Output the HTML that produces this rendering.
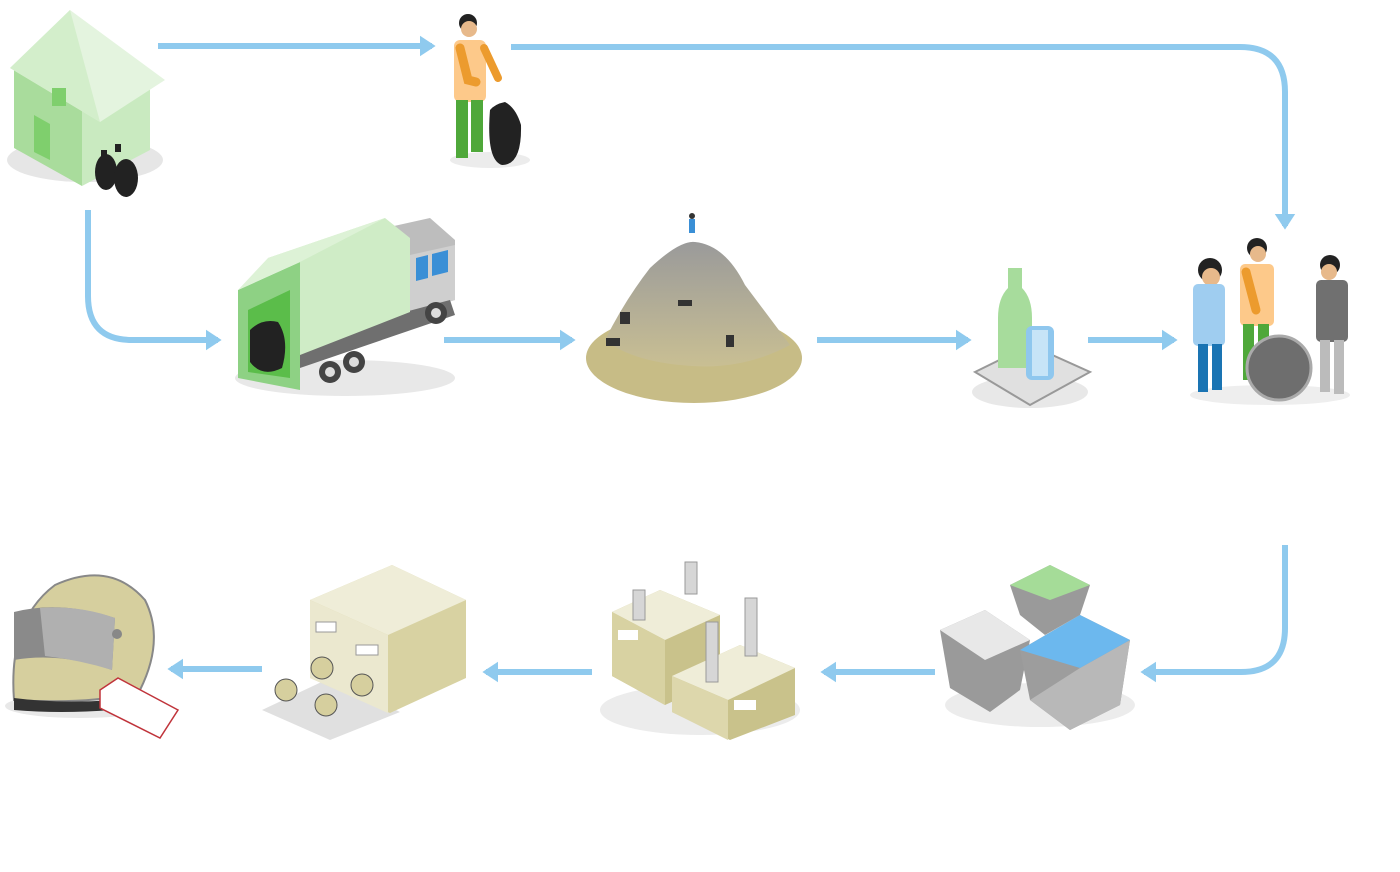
<!DOCTYPE html>
<html><head><meta charset="utf-8"><style>html,body{margin:0;padding:0;background:#fff}svg{display:block}</style></head>
<body>
<svg width="1400" height="872" viewBox="0 0 1400 872" xmlns="http://www.w3.org/2000/svg">
<defs>
<marker id="a" markerWidth="4" markerHeight="4" refX="2" refY="2" orient="auto" markerUnits="strokeWidth"><path d="M0,0.3 L2.6,2 L0,3.7 Z" fill="#8fcaee"/></marker>
<linearGradient id="m" x1="0" y1="0" x2="0" y2="1"><stop offset="0" stop-color="#9a9a9a"/><stop offset="1" stop-color="#c9bf93"/></linearGradient>
</defs>
<g fill="none" stroke="#8fcaee" stroke-width="6" marker-end="url(#a)">
<path d="M158,46 H432"/>
<path d="M511,47 H1240 Q1285,47 1285,92 V226"/>
<path d="M88,210 V296 Q88,340 132,340 H218"/>
<path d="M444,340 H572"/>
<path d="M817,340 H968"/>
<path d="M1088,340 H1174"/>
<path d="M1285,545 V628 Q1285,672 1241,672 H1144"/>
<path d="M935,672 H824"/>
<path d="M592,672 H486"/>
<path d="M262,669 H171"/>
</g>
<!-- house -->
<ellipse cx="85" cy="160" rx="78" ry="22" fill="#e6e6e6"/>
<polygon points="14,70 82,110 82,186 14,148" fill="#a9dc9c"/>
<polygon points="82,110 150,80 150,150 82,186" fill="#c9eac0"/>
<polygon points="10,68 70,10 165,80 100,122" fill="#e4f4df"/>
<polygon points="10,68 70,10 100,122" fill="#d3eecb"/>
<rect x="52" y="88" width="14" height="18" fill="#7fcf6d"/>
<polygon points="34,115 50,124 50,160 34,152" fill="#7fcf6d"/>
<g fill="#222"><ellipse cx="106" cy="172" rx="11" ry="18"/><ellipse cx="126" cy="178" rx="12" ry="19"/><rect x="115" y="144" width="6" height="8"/><rect x="101" y="150" width="6" height="8"/></g>
<!-- person 1 -->
<ellipse cx="490" cy="160" rx="40" ry="8" fill="#ececec"/>
<circle cx="468" cy="23" r="9" fill="#222"/><circle cx="469" cy="29" r="8" fill="#e7b98b"/>
<rect x="454" y="40" width="32" height="62" rx="6" fill="#fdc98a"/>
<path d="M460,48 L468,80 L476,82" stroke="#ec9b2e" stroke-width="9" fill="none" stroke-linecap="round"/>
<path d="M484,48 L498,78" stroke="#ec9b2e" stroke-width="8" fill="none" stroke-linecap="round"/>
<rect x="456" y="100" width="12" height="58" fill="#4fa83a"/><rect x="471" y="100" width="12" height="52" fill="#4fa83a"/>
<path d="M490,110 Q486,160 502,165 Q522,165 521,125 Q516,108 505,102 Q495,104 490,110Z" fill="#222"/>
<!-- truck -->
<ellipse cx="345" cy="378" rx="110" ry="18" fill="#e8e8e8"/>
<polygon points="385,228 430,218 455,240 455,300 385,320" fill="#bdbdbd"/>
<polygon points="410,255 455,245 455,300 410,312" fill="#cfcfcf"/>
<polygon points="416,258 428,255 428,278 416,281" fill="#3a8fd6"/><polygon points="432,254 448,250 448,272 432,276" fill="#3a8fd6"/>
<polygon points="300,340 450,300 455,315 300,368" fill="#6f6f6f"/>
<polygon points="238,290 300,262 300,390 238,378" fill="#8ed184"/>
<polygon points="248,310 290,290 290,378 248,372" fill="#5bbd4a"/>
<polygon points="268,258 385,218 410,238 410,312 300,355 300,262" fill="#cfecc6"/>
<polygon points="238,290 268,258 385,218 300,262" fill="#ddf2d6"/>
<path d="M250,330 Q262,318 278,322 Q290,340 282,368 Q262,378 250,362Z" fill="#222"/>
<g fill="#444"><circle cx="330" cy="372" r="11"/><circle cx="354" cy="362" r="11"/><circle cx="436" cy="313" r="11"/></g>
<g fill="#ddd"><circle cx="330" cy="372" r="5"/><circle cx="354" cy="362" r="5"/><circle cx="436" cy="313" r="5"/></g>
<!-- landfill -->
<ellipse cx="694" cy="358" rx="108" ry="45" fill="#c7bc86"/>
<path d="M605,340 Q625,300 650,268 Q680,240 695,242 Q725,245 745,285 Q775,325 790,345 Q740,372 680,365 Q630,360 605,340Z" fill="url(#m)"/>
<rect x="689" y="219" width="6" height="14" fill="#3a8fd6"/><circle cx="692" cy="216" r="3" fill="#333"/>
<g fill="#333"><rect x="620" y="312" width="10" height="12"/><rect x="606" y="338" width="14" height="8"/><rect x="726" y="335" width="8" height="12"/><rect x="678" y="300" width="14" height="6"/></g>
<!-- bottle and can -->
<ellipse cx="1030" cy="392" rx="58" ry="16" fill="#e8e8e8"/>
<polygon points="975,372 1030,345 1090,372 1030,405" fill="#e0e0e0" stroke="#999" stroke-width="2"/>
<path d="M1008,268 h14 v20 q10,10 10,30 v50 h-34 v-50 q0,-20 10,-30z" fill="#a7dc9c"/>
<rect x="1026" y="326" width="28" height="54" rx="6" fill="#8fc7ee"/><rect x="1032" y="330" width="16" height="46" fill="#c7e4f7"/>
<!-- people group -->
<ellipse cx="1270" cy="395" rx="80" ry="10" fill="#eee"/>
<circle cx="1210" cy="270" r="12" fill="#222"/><circle cx="1211" cy="277" r="9" fill="#e7b98b"/>
<rect x="1193" y="284" width="32" height="62" rx="5" fill="#9fcdf0"/>
<rect x="1198" y="344" width="10" height="48" fill="#1a74b3"/><rect x="1212" y="344" width="10" height="46" fill="#1a74b3"/>
<circle cx="1257" cy="248" r="10" fill="#222"/><circle cx="1258" cy="254" r="8" fill="#e7b98b"/>
<rect x="1240" y="264" width="34" height="62" rx="5" fill="#fdc98a"/>
<path d="M1246,272 L1256,310" stroke="#ec9b2e" stroke-width="9" stroke-linecap="round"/>
<rect x="1243" y="324" width="11" height="56" fill="#4fa83a"/><rect x="1258" y="324" width="11" height="50" fill="#4fa83a"/>
<circle cx="1330" cy="265" r="10" fill="#222"/><circle cx="1329" cy="272" r="8" fill="#e7b98b"/>
<rect x="1316" y="280" width="32" height="62" rx="5" fill="#707070"/>
<rect x="1320" y="340" width="10" height="52" fill="#bbb"/><rect x="1334" y="340" width="10" height="54" fill="#bbb"/>
<circle cx="1279" cy="368" r="32" fill="#6e6e6e" stroke="#aaa" stroke-width="3"/>
<!-- bins -->
<ellipse cx="1040" cy="705" rx="95" ry="22" fill="#ececec"/>
<polygon points="940,630 985,610 1030,640 1020,690 990,712 950,688" fill="#9a9a9a"/>
<polygon points="940,630 985,610 1030,640 985,660" fill="#e8e8e8"/>
<polygon points="1010,585 1050,565 1090,585 1080,615 1045,635 1020,615" fill="#9a9a9a"/>
<polygon points="1010,585 1050,565 1090,585 1050,600" fill="#a5dc98"/>
<polygon points="1020,650 1080,615 1130,640 1120,705 1070,730 1030,700" fill="#9d9d9d"/>
<polygon points="1030,700 1070,730 1120,705 1130,640 1080,668" fill="#b8b8b8"/>
<polygon points="1020,650 1080,615 1130,640 1080,668" fill="#6cb8ee"/>
<!-- factory -->
<ellipse cx="700" cy="710" rx="100" ry="25" fill="#ececec"/>
<polygon points="612,612 660,590 720,615 720,680 665,705 612,676" fill="#c9c28b"/>
<polygon points="612,612 660,590 720,615 665,640" fill="#efedd8"/>
<polygon points="612,612 665,640 665,705 612,676" fill="#d8d2a2"/>
<polygon points="672,676 740,645 795,668 795,715 730,740 672,712" fill="#c9c28b"/>
<polygon points="672,676 740,645 795,668 728,700" fill="#efedd8"/>
<polygon points="672,676 728,700 728,740 672,712" fill="#ddd7ac"/>
<g fill="#d6d6d6" stroke="#999"><rect x="633" y="590" width="12" height="30"/><rect x="685" y="562" width="12" height="32"/><rect x="706" y="622" width="12" height="60"/><rect x="745" y="598" width="12" height="58"/></g>
<g fill="#fff"><rect x="618" y="630" width="20" height="10"/><rect x="734" y="700" width="22" height="10"/></g>
<!-- warehouse -->
<polygon points="262,710 330,678 400,712 330,740" fill="#e0e0e0"/>
<polygon points="310,600 392,565 466,600 466,678 390,713 310,678" fill="#d8d2a2"/>
<polygon points="310,600 392,565 466,600 388,635" fill="#efedd8"/>
<polygon points="310,600 388,635 388,713 310,678" fill="#ebe8cf"/>
<g fill="#fff" stroke="#999"><rect x="316" y="622" width="20" height="10"/><rect x="356" y="645" width="22" height="10"/></g>
<g fill="#d6cf9e" stroke="#555"><circle cx="286" cy="690" r="11"/><circle cx="322" cy="668" r="11"/><circle cx="362" cy="685" r="11"/><circle cx="326" cy="705" r="11"/></g>
<!-- helmet -->
<ellipse cx="80" cy="706" rx="75" ry="12" fill="#e8e8e8"/>
<path d="M14,700 Q8,620 55,585 Q110,560 145,600 Q165,640 140,690 Q100,705 14,700Z" fill="#d6cf9e" stroke="#888" stroke-width="2"/>
<path d="M14,612 Q60,600 115,618 L112,670 Q60,652 14,660Z" fill="#8a8a8a"/>
<path d="M40,608 Q80,605 115,618 L112,670 Q80,660 45,656Z" fill="#b0b0b0"/>
<path d="M14,698 Q60,704 112,700 L112,710 Q60,714 14,710Z" fill="#333"/>
<circle cx="117" cy="634" r="5" fill="#888"/>
<polygon points="100,690 118,678 178,710 160,738 100,708" fill="#fff" stroke="#c0343b" stroke-width="1.5"/>
</svg>
</body></html>
